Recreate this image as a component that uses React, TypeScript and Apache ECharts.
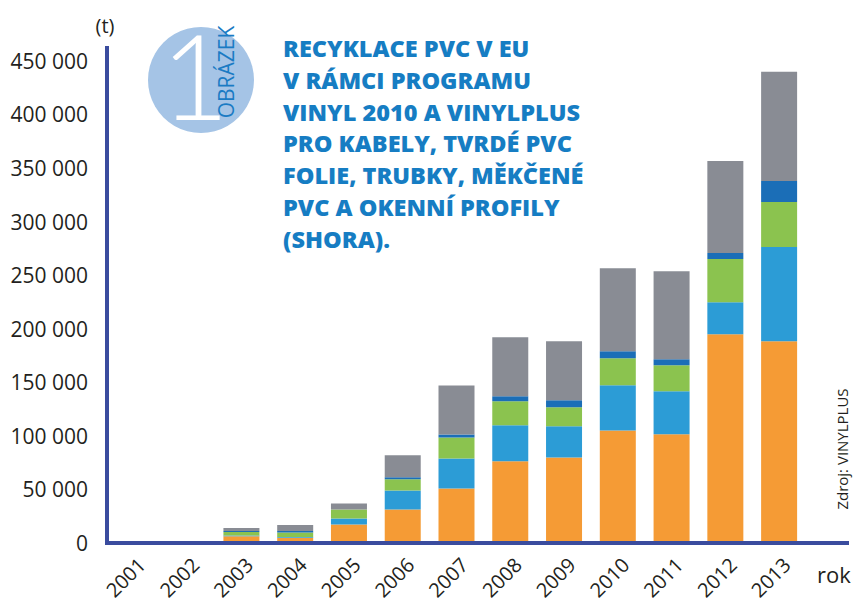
import React, { useEffect, useRef } from "react";
import * as echarts from "echarts";

const years = ["2001", "2002", "2003", "2004", "2005", "2006", "2007", "2008", "2009", "2010", "2011", "2012", "2013"];
// bottom to top
const okenniProfily = [0, 0, 6400, 5000, 17300, 31300, 50900, 76200, 79900, 105100, 101400, 194900, 188300];
const mekcenePVC = [0, 0, 500, 500, 5600, 17800, 28000, 33600, 29000, 42100, 40200, 29900, 87900];
const trubky = [0, 0, 3400, 4400, 8400, 10300, 19600, 22400, 17800, 25200, 24300, 40200, 42100];
const tvrdeFolie = [0, 0, 900, 1200, 0, 1900, 2800, 4700, 6500, 6500, 5600, 5600, 19600];
const kabely = [0, 0, 2800, 5600, 5600, 20600, 45800, 55100, 55100, 77600, 82200, 86000, 101900];

const titleLines = [
  "RECYKLACE PVC V EU",
  "V RÁMCI PROGRAMU",
  "VINYL 2010 A VINYLPLUS",
  "PRO KABELY, TVRDÉ PVC",
  "FOLIE, TRUBKY, MĚKČENÉ",
  "PVC A OKENNÍ PROFILY",
  "(SHORA).",
];

const AXIS = "#3a4c9e";
const TXT = "#231f20";
const FONT = "'Open Sans', sans-serif";

export default function App() {
  const ref = useRef<HTMLDivElement>(null);
  useEffect(() => {
    const chart = echarts.init(ref.current!, null, { renderer: "svg" });
    const mk = (name: string, data: number[], color: string) => ({
      name,
      type: "bar",
      stack: "total",
      data,
      barWidth: 36,
      itemStyle: { color },
    });
    chart.setOption({
      animation: false,
      backgroundColor: "#ffffff",
      grid: { left: 107, right: 47, top: 48, bottom: 60, containLabel: false, outerBoundsMode: "none" },
      xAxis: {
        type: "category",
        data: years,
        z: 5,
        axisLine: { show: true, onZero: false, lineStyle: { color: AXIS, width: 4 } },
        axisTick: { show: false },
        axisLabel: {
          rotate: 45,
          margin: 26,
          padding: [0, -11, 0, 0],
          fontSize: 20,
          color: TXT,
          fontFamily: FONT,
          interval: 0,
        },
      },
      yAxis: {
        type: "value",
        min: 0,
        max: 462000,
        interval: 50000,
        z: 5,
        axisLine: { show: true, lineStyle: { color: AXIS, width: 4, cap: "square" } },
        axisTick: { show: false },
        splitLine: { show: false },
        axisLabel: {
          showMaxLabel: false,
          margin: 19,
          fontSize: 21,
          color: TXT,
          fontFamily: FONT,
          formatter: (v: number) => String(v).replace(/\B(?=(\d{3})+(?!\d))/g, " "),
        },
      },
      series: [
        mk("okenní profily", okenniProfily, "#f59b35"),
        mk("měkčené PVC", mekcenePVC, "#2c9cd6"),
        mk("trubky", trubky, "#8bc34f"),
        mk("tvrdé PVC folie", tvrdeFolie, "#1b6eb7"),
        mk("kabely", kabely, "#898c94"),
      ],
      graphic: [
        {
          type: "rect",
          shape: { x: 105, y: 541, width: 744, height: 4 },
          style: { fill: AXIS },
          z: 100,
          zlevel: 1,
        },
        {
          type: "text",
          x: 105,
          y: 25,
          style: { text: "(t)", fontSize: 20, fill: TXT, fontFamily: FONT, align: "center", verticalAlign: "middle" },
        },
        {
          type: "text",
          x: 834,
          y: 574,
          style: { text: "rok", fontSize: 22, fill: TXT, fontFamily: FONT, align: "center", verticalAlign: "middle" },
        },
        {
          type: "text",
          x: 842,
          y: 449,
          rotation: Math.PI / 2,
          style: { text: "Zdroj: VINYLPLUS", fontSize: 15, fill: TXT, fontFamily: FONT, align: "center", verticalAlign: "middle" },
        },
        {
          type: "circle",
          shape: { cx: 201, cy: 80, r: 53 },
          style: { fill: "#a5c4e6" },
        },
        {
          type: "text",
          x: 195,
          y: 74,
          style: { text: "1", fontSize: 118, fontWeight: 300, fill: "#ffffff", fontFamily: "Lato, sans-serif", align: "center", verticalAlign: "middle" },
        },
        {
          type: "text",
          x: 226,
          y: 72,
          rotation: Math.PI / 2,
          style: { text: "OBRÁZEK", fontSize: 21, fill: "#1a7bc4", fontFamily: FONT, align: "center", verticalAlign: "middle" },
        },
        {
          type: "text",
          x: 283,
          y: 32.5,
          style: {
            text: titleLines.join("\n"),
            fontSize: 23.5,
            fontWeight: 800,
            lineHeight: 31.7,
            fill: "#167dc3",
            fontFamily: FONT,
            align: "left",
            verticalAlign: "top",
          },
        },
      ],
    });
    return () => chart.dispose();
  }, []);
  return <div ref={ref} style={{ position: "fixed", left: 0, top: 0, width: 853, height: 603 }} />;
}
